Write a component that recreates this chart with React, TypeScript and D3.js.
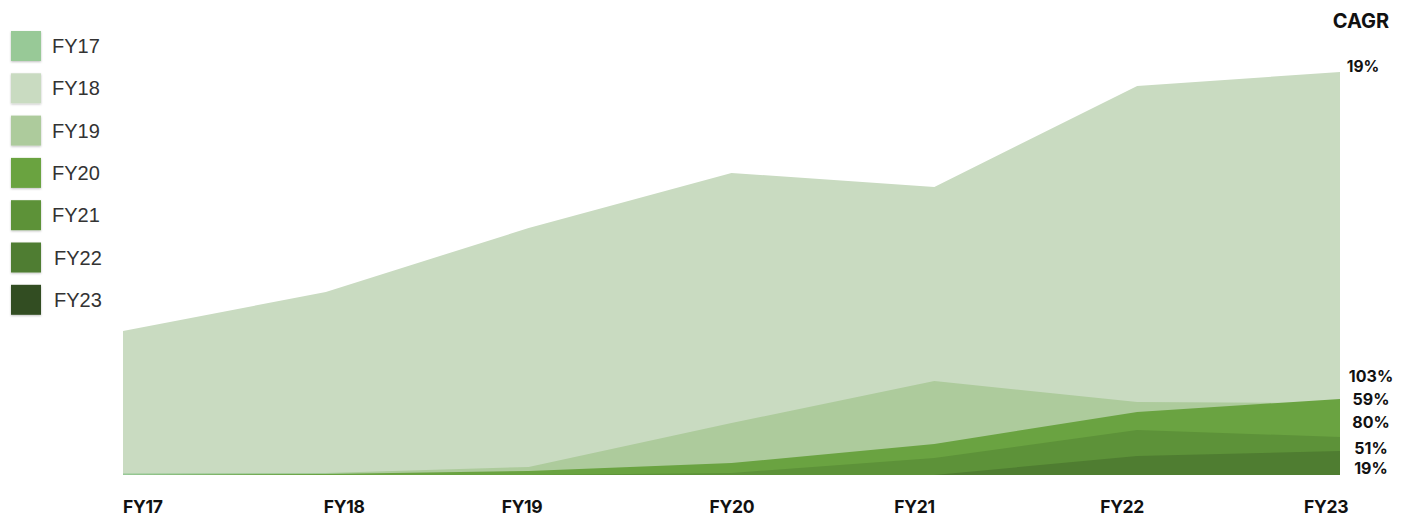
import React from "react";
import * as d3 from "d3";

const years = ["FY17", "FY18", "FY19", "FY20", "FY21", "FY22", "FY23"];
const seriesNames = ["FY17", "FY18", "FY19", "FY20", "FY21", "FY22", "FY23"];
const colors = ["#98C997", "#C9DBC1", "#ADCB9C", "#6AA341", "#5D9239", "#4F7D31", "#324E22"];

const fy17 = [1.5, 1.5, 1, 0.5, 0, 0, 0];
const fy18 = [144, 183, 247, 302, 288, 389, 403];
const fy19 = [1, 2, 8, 52, 94, 73, 72];
const fy20 = [0, 1, 4, 12, 31, 63, 76];
const fy21 = [0, 0, 0, 2, 17, 45, 38];
const fy22 = [0, 0, 0, 0, 0, 19, 24];
const fy23 = [0, 0, 0, 0, 0, 0, 0];
const seriesValues = [fy17, fy18, fy19, fy20, fy21, fy22, fy23];
const cagrLabels = ["19%", "19%", "103%", "59%", "80%", "51%", "19%"];
// draw order: large background first
const drawOrder = [1, 2, 0, 3, 4, 5, 6];

const W = 1411, H = 521;
const x0 = 123, x1 = 1340, yBase = 475;

export default function App() {
  const x = d3.scalePoint<string>().domain(years).range([x0, x1]);
  const y = d3.scaleLinear().domain([0, 420]).range([yBase, yBase - 420]);
  const area = d3
    .area<number>()
    .x((_, i) => x(years[i]) as number)
    .y0(y(0))
    .y1((d) => y(d));

  const lastVals = seriesValues.map((s) => s[s.length - 1]);
  const bottomOrder = [2, 3, 4, 5, 6];
  const stackStart = y(lastVals[2]) - 27;
  const gaps = [0, 23, 46, 72, 92];
  // label placement: x-axis labels anchored progressively from start to end
  const labelW = 44;

  return (
    <div style={{ position: "absolute", left: 0, top: 0 }}>
      <svg width={W} height={H} style={{ display: "block" }}>
        <defs>
          <filter id="sh" x="-30%" y="-30%" width="160%" height="160%">
            <feDropShadow dx="0" dy="1" stdDeviation="1.2" floodColor="#000" floodOpacity="0.25" />
          </filter>
        </defs>
        {drawOrder.map((si) => (
          <path key={si} d={area(seriesValues[si]) || ""} fill={colors[si]} stroke="none" />
        ))}
        {years.map((yr, i) => {
          const frac = i / (years.length - 1);
          const px = x(yr) as number;
          const tx = i === 0 ? px : i === years.length - 1 ? px + 8 - labelW : px - labelW / 2 + (i === 1 ? 20 : i === 2 ? -5 : i === 4 ? -18 : i === 5 ? -15 : 0);
          void frac;
          return (
            <text
              key={yr}
              x={tx}
              y={506}
              dominantBaseline="central"
              fontFamily="Inter, 'Open Sans', sans-serif"
              fontWeight={700}
              fontSize={17.5}
              fill="#111"
              letterSpacing={-0.3}
            >
              {yr}
            </text>
          );
        })}
        <text x={1361} y={21} textAnchor="middle" dominantBaseline="central" fontFamily="Inter, sans-serif" fontWeight={700} fontSize={20} fill="#111">
          CAGR
        </text>
        <text x={1363} y={y(lastVals[1]) - 6} textAnchor="middle" dominantBaseline="central" fontFamily="Inter, sans-serif" fontWeight={700} fontSize={15.5} fill="#111">
          {cagrLabels[1]}
        </text>
        {bottomOrder.map((si, k) => (
          <text key={si} x={1371} y={stackStart + gaps[k]} textAnchor="middle" dominantBaseline="central" fontFamily="Inter, sans-serif" fontWeight={700} fontSize={16} fill="#111">
            {cagrLabels[si]}
          </text>
        ))}
        {seriesNames.map((n, i) => (
          <g key={n} transform={`translate(11, ${31 + i * 42.3})`}>
            <rect width={30} height={30} fill={colors[i]} filter="url(#sh)" />
            <text x={41 + (i >= 5 ? 2 : 0)} y={15} dominantBaseline="central" fontFamily="'Liberation Sans', Arial, sans-serif" fontSize={20} fill="#333">
              {n}
            </text>
          </g>
        ))}
      </svg>
    </div>
  );
}
